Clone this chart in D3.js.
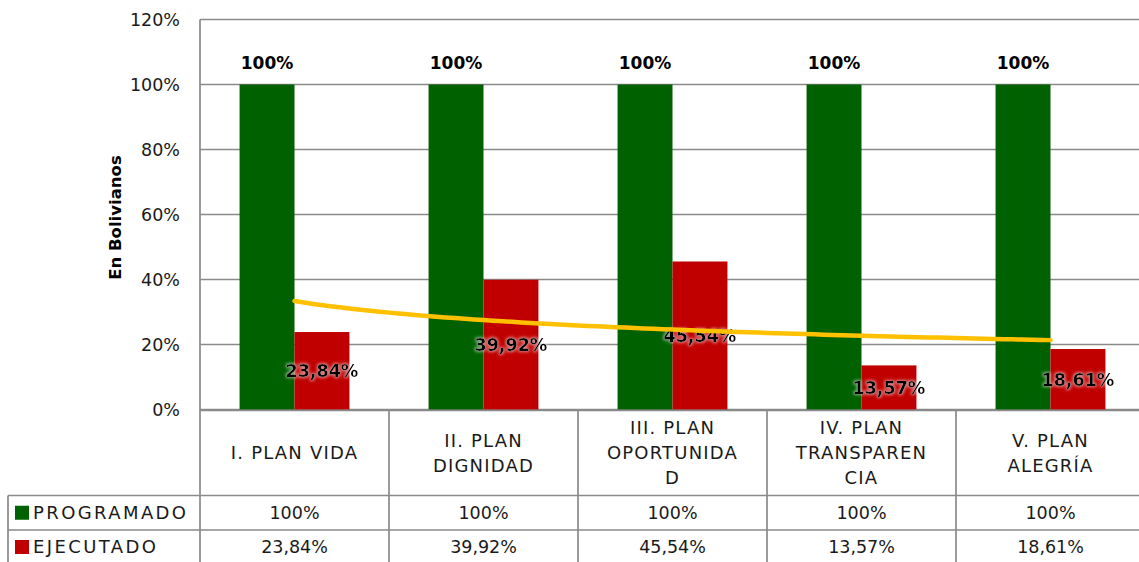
<!DOCTYPE html>
<html>
<head>
<meta charset="utf-8">
<script src="https://cdn.jsdelivr.net/npm/d3@7"></script>
<style>
  html, body { margin: 0; padding: 0; background: #fff; }
  svg { display: block; font-family: "DejaVu Sans", sans-serif; }
</style>
</head>
<body>
<svg id="chart" width="1139" height="562"></svg>
<script>
// Plan categories, with the line breaks used inside the data table
const categories = ["I. PLAN VIDA", "II. PLAN DIGNIDAD", "III. PLAN OPORTUNIDAD", "IV. PLAN TRANSPARENCIA", "V. PLAN ALEGRÍA"];
const categoryLines = [
  ["I. PLAN VIDA"],
  ["II. PLAN", "DIGNIDAD"],
  ["III. PLAN", "OPORTUNIDA", "D"],
  ["IV. PLAN", "TRANSPAREN", "CIA"],
  ["V. PLAN", "ALEGRÍA"]
];
const seriesNames = ["PROGRAMADO", "EJECUTADO"];
const programado = [100, 100, 100, 100, 100];
const ejecutado = [23.84, 39.92, 45.54, 13.57, 18.61];
const programadoLabels = ["100%", "100%", "100%", "100%", "100%"];
const ejecutadoLabels = ["23,84%", "39,92%", "45,54%", "13,57%", "18,61%"];
const yTicks = [0, 20, 40, 60, 80, 100, 120];
const axisTitle = "En Bolivianos";

const colors = { PROGRAMADO: "#006100", EJECUTADO: "#C00000" };
const gridColor = "#8a8a8a";
const textColor = "#1a1a1a";

const svg = d3.select("#chart");

// Layout of plot and data table
const plotLeft = 200, plotRight = 1145, plotTop = 19.5, plotBottom = 409.5;
const tableTop = 410.5, rowCat = 495.5, rowProg = 530, rowBottom = 566;
const legendLeft = 8;

const x0 = d3.scaleBand().domain(categories).range([plotLeft, plotRight]).padding(0);
const x1 = d3.scaleBand().domain(seriesNames).range([0, x0.bandwidth()]).paddingInner(0).paddingOuter(0.72);
const y = d3.scaleLinear().domain([0, 120]).range([plotBottom, plotTop]);

// Soft halo behind the executed-value labels
const defs = svg.append("defs");
const glow = defs.append("filter").attr("id", "glow").attr("x", "-20%").attr("y", "-40%").attr("width", "140%").attr("height", "180%");
glow.append("feMorphology").attr("in", "SourceAlpha").attr("operator", "dilate").attr("radius", 1.2).attr("result", "thick");
glow.append("feGaussianBlur").attr("in", "thick").attr("stdDeviation", 1.6).attr("result", "blur");
glow.append("feFlood").attr("flood-color", "#ffffff").attr("flood-opacity", 0.5);
glow.append("feComposite").attr("in2", "blur").attr("operator", "in").attr("result", "halo");
const merge = glow.append("feMerge");
merge.append("feMergeNode").attr("in", "halo");
merge.append("feMergeNode").attr("in", "SourceGraphic");

// Gridlines
svg.append("g")
  .selectAll("line")
  .data(yTicks)
  .join("line")
  .attr("x1", plotLeft).attr("x2", plotRight)
  .attr("y1", d => y(d)).attr("y2", d => y(d))
  .attr("stroke", gridColor).attr("stroke-width", 1.7);

// Y tick labels
svg.append("g")
  .selectAll("text")
  .data(yTicks)
  .join("text")
  .attr("x", 180).attr("y", d => y(d))
  .attr("dy", "0.36em")
  .attr("text-anchor", "end")
  .attr("font-size", 17.5)
  .attr("fill", textColor)
  .text(d => d + "%");

// Axis title
svg.append("text")
  .attr("transform", `translate(121,${(plotTop + plotBottom) / 2 + 3}) rotate(-90)`)
  .attr("text-anchor", "middle")
  .attr("font-size", 16.5)
  .attr("font-weight", "bold")
  .attr("fill", "#000")
  .text(axisTitle);

// Bars
const rows = categories.map((c, i) => ({ c, i, PROGRAMADO: programado[i], EJECUTADO: ejecutado[i] }));
const groups = svg.append("g").selectAll("g")
  .data(rows)
  .join("g")
  .attr("transform", d => `translate(${x0(d.c)},0)`);

groups.selectAll("rect")
  .data(d => seriesNames.map(s => ({ s, v: d[s] })))
  .join("rect")
  .attr("x", d => x1(d.s))
  .attr("width", x1.bandwidth())
  .attr("y", d => y(d.v))
  .attr("height", d => y(0) - y(d.v))
  .attr("fill", d => colors[d.s]);

// Labels above the programmed bars
groups.append("text")
  .attr("x", x1("PROGRAMADO") + x1.bandwidth() / 2)
  .attr("y", d => y(d.PROGRAMADO) - 16)
  .attr("text-anchor", "middle")
  .attr("font-size", 17)
  .attr("font-weight", "bold")
  .attr("fill", "#000")
  .text(d => programadoLabels[d.i]);

// Labels centred inside the executed bars
groups.append("text")
  .attr("x", x1("EJECUTADO") + x1.bandwidth() / 2)
  .attr("y", d => (y(d.EJECUTADO) + y(0)) / 2)
  .attr("dy", "0.36em")
  .attr("text-anchor", "middle")
  .attr("font-size", 17.5)
  .attr("font-weight", "bold")
  .attr("fill", "#000")
  .attr("filter", "url(#glow)")
  .text(d => ejecutadoLabels[d.i]);

// Power trendline fitted to the executed series (y = a * x^b)
const lx = ejecutado.map((_, i) => Math.log(i + 1));
const ly = ejecutado.map(v => Math.log(v));
const mx = d3.mean(lx), my = d3.mean(ly);
const b = d3.sum(lx, (v, i) => (v - mx) * (ly[i] - my)) / d3.sum(lx, v => (v - mx) * (v - mx));
const a = Math.exp(my - b * mx);
const xc = d3.scaleLinear().domain([1, categories.length])
  .range([x0(categories[0]) + x0.bandwidth() / 2, x0(categories[categories.length - 1]) + x0.bandwidth() / 2]);
const trendPts = d3.range(1, categories.length + 0.001, 0.05).map(t => [xc(t), y(a * Math.pow(t, b))]);
svg.append("path")
  .attr("d", d3.line()(trendPts))
  .attr("fill", "none")
  .attr("stroke", "#FFC000")
  .attr("stroke-width", 4.5)
  .attr("stroke-linecap", "round");

// Data table
const table = svg.append("g").attr("stroke", gridColor).attr("stroke-width", 1.7);
// vertical axis line continuing down the table
table.append("line").attr("x1", plotLeft).attr("x2", plotLeft).attr("y1", plotTop).attr("y2", 562);
// column separators
table.selectAll("line.col")
  .data(categories)
  .join("line").attr("class", "col")
  .attr("x1", d => x0(d) + x0.bandwidth())
  .attr("x2", d => x0(d) + x0.bandwidth())
  .attr("y1", tableTop).attr("y2", 562);
// horizontal rows
table.append("line").attr("x1", plotLeft).attr("x2", plotRight).attr("y1", tableTop).attr("y2", tableTop);
table.append("line").attr("x1", legendLeft).attr("x2", plotRight).attr("y1", rowCat).attr("y2", rowCat);
table.append("line").attr("x1", legendLeft).attr("x2", plotRight).attr("y1", rowProg).attr("y2", rowProg);
table.append("line").attr("x1", legendLeft).attr("x2", legendLeft).attr("y1", rowCat).attr("y2", 562);

// Category names
const catText = svg.append("g").selectAll("text")
  .data(categoryLines)
  .join("text")
  .attr("text-anchor", "middle")
  .attr("font-size", 18)
  .attr("letter-spacing", 1.2)
  .attr("fill", textColor);
catText.each(function (lines, i) {
  const cx = x0(categories[i]) + x0.bandwidth() / 2;
  const cy = (tableTop + rowCat) / 2;
  const lh = 25;
  d3.select(this).selectAll("tspan")
    .data(lines)
    .join("tspan")
    .attr("x", cx)
    .attr("y", (d, j) => cy + (j - (lines.length - 1) / 2) * lh)
    .attr("dy", "0.36em")
    .text(d => d);
});

// Series rows: legend key and values
const seriesRows = [
  { s: "PROGRAMADO", labels: programadoLabels, cy: (rowCat + rowProg) / 2 },
  { s: "EJECUTADO", labels: ejecutadoLabels, cy: (rowProg + rowBottom) / 2 - 1 }
];
seriesRows.forEach(r => {
  svg.append("rect")
    .attr("x", 15).attr("y", r.cy - 7).attr("width", 14).attr("height", 14)
    .attr("fill", colors[r.s]);
  svg.append("text")
    .attr("x", 33).attr("y", r.cy).attr("dy", "0.36em")
    .attr("font-size", 18).attr("letter-spacing", 2.4)
    .attr("fill", textColor)
    .text(r.s);
  svg.append("g").selectAll("text")
    .data(r.labels)
    .join("text")
    .attr("x", (d, i) => x0(categories[i]) + x0.bandwidth() / 2)
    .attr("y", r.cy).attr("dy", "0.36em")
    .attr("text-anchor", "middle")
    .attr("font-size", 17.5)
    .attr("fill", textColor)
    .text(d => d);
});
</script>
</body>
</html>
